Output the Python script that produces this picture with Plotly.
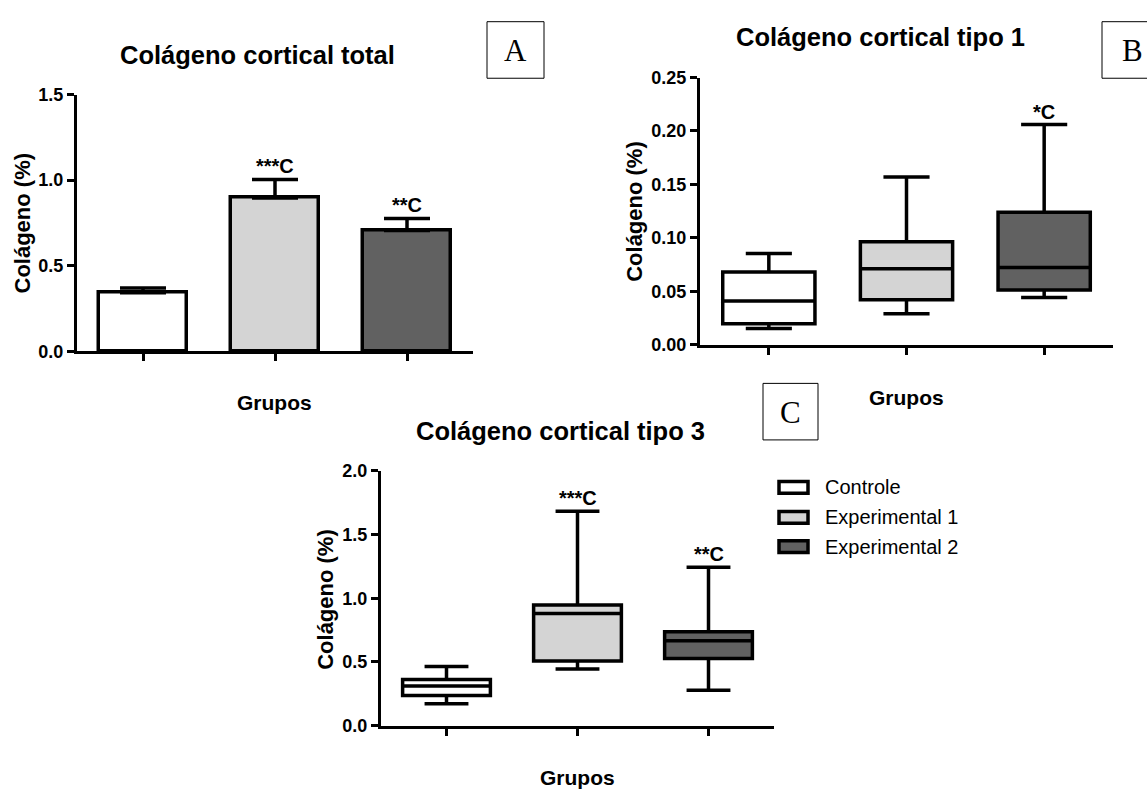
import plotly.graph_objects as go

W, H = 1147, 796

# ---- data -------------------------------------------------------------
groups = ["Controle", "Experimental 1", "Experimental 2"]
positions = [0, 1, 2]

# Colágeno cortical total: mean and upper limit of the error bar
total_mean = [0.342, 0.896, 0.706]
total_upper = [0.370, 1.004, 0.776]
total_sig = ["", "***C", "**C"]

# Colágeno cortical tipo 1: box-plot statistics
t1_low = [0.0152, 0.0289, 0.0442]
t1_q1 = [0.0195, 0.0420, 0.0512]
t1_med = [0.0408, 0.0710, 0.0722]
t1_q3 = [0.0680, 0.0963, 0.1240]
t1_high = [0.0853, 0.1570, 0.2060]
t1_sig = ["", "", "*C"]

# Colágeno cortical tipo 3: box-plot statistics
t3_low = [0.171, 0.444, 0.278]
t3_q1 = [0.235, 0.507, 0.526]
t3_med = [0.311, 0.880, 0.666]
t3_q3 = [0.362, 0.946, 0.737]
t3_high = [0.464, 1.683, 1.242]
t3_sig = ["", "***C", "**C"]

y_ticks_total = [0.0, 0.5, 1.0, 1.5]
y_ticks_t1 = [0.00, 0.05, 0.10, 0.15, 0.20, 0.25]
y_ticks_t3 = [0.0, 0.5, 1.0, 1.5, 2.0]

# ---- styling ----------------------------------------------------------
fills = ["#ffffff", "#d4d4d4", "#616161"]
SANS = "Liberation Sans, Arial, sans-serif"
SERIF = "Liberation Serif, Times New Roman, serif"
LW = 3.5


def px(x):
    return x / W


def py(y):
    return 1 - y / H


fig = go.Figure()

# Panel A: bars with upper error bars
fig.add_trace(go.Bar(
    x=positions, y=total_mean, width=0.667,
    marker=dict(color=fills, line=dict(color="black", width=LW)),
    error_y=dict(type="data", symmetric=False,
                 array=[u - m for u, m in zip(total_upper, total_mean)],
                 arrayminus=[0] * 3, color="black", thickness=LW, width=23),
    xaxis="x", yaxis="y", showlegend=False, hoverinfo="skip",
))

# Panels B and C: box plots from precomputed statistics
for axx, axy, lo, q1, med, q3, hi in [
    ("x2", "y2", t1_low, t1_q1, t1_med, t1_q3, t1_high),
    ("x3", "y3", t3_low, t3_q1, t3_med, t3_q3, t3_high),
]:
    for i in range(3):
        fig.add_trace(go.Box(
            x=[positions[i]], q1=[q1[i]], median=[med[i]], q3=[q3[i]],
            lowerfence=[lo[i]], upperfence=[hi[i]],
            width=0.67, whiskerwidth=0.5, boxpoints=False,
            fillcolor=fills[i], line=dict(color="black", width=LW),
            xaxis=axx, yaxis=axy, showlegend=False, hoverinfo="skip",
        ))

axis_common = dict(showline=True, linewidth=3, linecolor="black",
                   showgrid=False, zeroline=False, ticks="outside",
                   tickcolor="black", tickwidth=2.5, ticklen=7)
tickfont = dict(family=SANS, size=18, color="black", weight="bold")

xcommon = dict(axis_common, range=[-0.5, 2.5], tickvals=positions,
               showticklabels=False, fixedrange=True)

fig.update_layout(
    width=W, height=H, margin=dict(l=0, r=0, t=0, b=0),
    paper_bgcolor="white", plot_bgcolor="white",
    bargap=0, showlegend=False,
    xaxis=dict(xcommon, domain=[px(77), px(473)], anchor="y"),
    yaxis=dict(axis_common, domain=[py(350), py(86.7)], range=[0, 1.5],
               tickvals=y_ticks_total, tickformat=".1f", tickfont=tickfont,
               anchor="x"),
    xaxis2=dict(xcommon, domain=[px(700), px(1113)], anchor="y2"),
    yaxis2=dict(axis_common, domain=[py(343.3), py(69.3)], range=[0, 0.25],
                tickvals=y_ticks_t1, tickformat=".2f", tickfont=tickfont,
                anchor="x2"),
    xaxis3=dict(xcommon, domain=[px(381), px(774)], anchor="y3"),
    yaxis3=dict(axis_common, domain=[py(734), py(472.7)], range=[0, 2.0],
                tickvals=y_ticks_t3, tickformat=".1f", tickfont=tickfont,
                anchor="x3"),
)

ann = []


def text(x, y, s, size, bold=True, angle=0, family=SANS, xanchor="center"):
    ann.append(dict(x=px(x), y=py(y), xref="paper", yref="paper", text=s,
                    showarrow=False, xanchor=xanchor, yanchor="middle",
                    textangle=angle,
                    font=dict(family=family, size=size, color="black",
                              weight="bold" if bold else "normal")))


# titles
text(257, 46, "Colágeno cortical total", 25.5)
text(880, 28, "Colágeno cortical tipo 1", 25.5)
text(560, 432, "Colágeno cortical tipo 3", 25.5)

# axis titles
for x, y in [(22, 219), (635, 207), (326, 605)]:
    text(x, y, "Colágeno (%)", 22, angle=-90)
for x, y in [(274, 403), (906, 397), (577, 787)]:
    text(x, y, "Grupos", 21)

# significance marks above each group
for axx, axy, tops, sig in [("x", "y", total_upper, total_sig),
                            ("x2", "y2", t1_high, t1_sig),
                            ("x3", "y3", t3_high, t3_sig)]:
    for i in range(3):
        if sig[i]:
            ann.append(dict(x=positions[i], y=tops[i], xref=axx, yref=axy,
                            text=sig[i], showarrow=False, yanchor="bottom",
                            yshift=0,
                            font=dict(family=SANS, size=20, color="black",
                                      weight="bold")))

# panel letters in framed boxes
shapes = []
for (x0, x1, y0, y1), letter in [((487, 544, 12, 70), "A"),
                                 ((1102, 1162, 12, 70), "B"),
                                 ((763, 818, 383, 441), "C")]:
    shapes.append(dict(type="rect", xref="paper", yref="paper",
                       x0=px(x0), x1=px(x1), y0=py(y1), y1=py(y0),
                       line=dict(color="black", width=1)))
    text((x0 + x1) / 2, (y0 + y1) / 2 + 1, letter, 31, bold=False,
         family=SERIF)

# legend for the three groups
for i, (g, yc) in enumerate(zip(groups, [489.7, 520.5, 550.5])):
    shapes.append(dict(type="rect", xref="paper", yref="paper",
                       x0=px(779), x1=px(808), y0=py(yc + 6), y1=py(yc - 6),
                       fillcolor=fills[i], line=dict(color="black", width=3.5)))
    text(823, yc, g, 20, bold=False, xanchor="left")

fig.update_layout(annotations=ann, shapes=shapes)

fig.write_html("out.html")
